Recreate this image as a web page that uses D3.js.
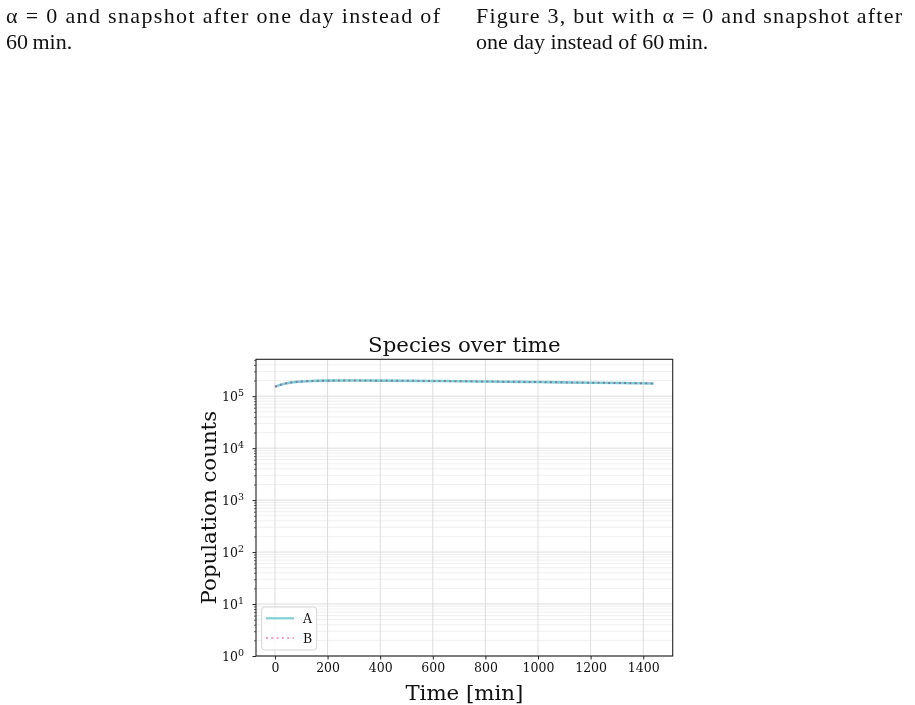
<!DOCTYPE html>
<html>
<head>
<meta charset="utf-8">
<script src="https://cdn.jsdelivr.net/npm/d3@7"></script>
<style>
  body { margin: 0; background: #fff; }
  svg text { font-family: "DejaVu Serif", serif; fill: #111; }
  .para text { font-family: "Liberation Serif", "DejaVu Serif", serif; font-size: 22px; }
  .grid-major line { stroke: #d9d9d9; stroke-width: 0.9; }
  .grid-minor line { stroke: #ececec; stroke-width: 0.8; }
</style>
</head>
<body>
<script>
// series
var times = [0, 25, 50, 100, 150, 200, 300, 400, 600, 800, 1000, 1200, 1440];
var seriesA = [152000, 168000, 180000, 192000, 197000, 199000, 200000, 199000, 196000, 192000, 187000, 182000, 176000];
var seriesB = [152000, 168000, 180000, 192000, 197000, 199000, 200000, 199000, 196000, 192000, 187000, 182000, 176000];
var xTicks = [0, 200, 400, 600, 800, 1000, 1200, 1400];
var yExps = [0, 1, 2, 3, 4, 5];
var legendNames = ["A", "B"];

// caption text above the figure
var captionLeft = ["\u03b1 = 0 and snapshot after one day instead of", "60\u2009min."];
var captionRight = ["Figure 3, but with \u03b1 = 0 and snapshot after", "one day instead of 60\u2009min."];

var width = 915, height = 705;
var plot = { left: 256, right: 672.7, top: 359.3, bottom: 656 };

var svg = d3.select("body").append("svg")
    .attr("width", width)
    .attr("height", height);

// caption columns, first line justified
var para = svg.append("g").attr("class", "para");
function caption(lines, x0, fullWidth) {
    lines.forEach(function (t, i) {
        var txt = para.append("text")
            .attr("x", x0)
            .attr("y", 23 + i * 26)
            .text(t);
        if (i === 0) txt.attr("textLength", fullWidth).attr("lengthAdjust", "spacing");
    });
}
caption(captionLeft, 6, 434);
caption(captionRight, 476, 426);

var x = d3.scaleLinear()
    .domain([-72, 1512])
    .range([plot.left, plot.right]);

var y = d3.scaleLog()
    .domain([1, Math.pow(10, 5.71)])
    .range([plot.bottom, plot.top]);

// minor ticks for the log axis
var minorVals = [];
for (var e = 0; e <= 5; e++) {
    for (var m = 2; m <= 9; m++) {
        var v = m * Math.pow(10, e);
        if (v <= y.domain()[1]) minorVals.push(v);
    }
}
var majorVals = yExps.map(function (k) { return Math.pow(10, k); });

// grid
svg.append("g").attr("class", "grid-minor")
    .selectAll("line").data(minorVals).enter().append("line")
    .attr("x1", plot.left).attr("x2", plot.right)
    .attr("y1", function (d) { return y(d); })
    .attr("y2", function (d) { return y(d); });

svg.append("g").attr("class", "grid-major")
    .selectAll("line").data(majorVals).enter().append("line")
    .attr("x1", plot.left).attr("x2", plot.right)
    .attr("y1", function (d) { return y(d); })
    .attr("y2", function (d) { return y(d); });

svg.append("g").attr("class", "grid-major")
    .selectAll("line").data(xTicks).enter().append("line")
    .attr("x1", function (d) { return x(d); })
    .attr("x2", function (d) { return x(d); })
    .attr("y1", plot.top).attr("y2", plot.bottom);

// lines
var line = function (vals) {
    return d3.line()
        .x(function (d, i) { return x(times[i]); })
        .y(function (d) { return y(d); })
        .curve(d3.curveMonotoneX)(vals);
};

svg.append("path")
    .attr("d", line(seriesA))
    .attr("fill", "none")
    .attr("stroke", "#7fcfd4")
    .attr("stroke-width", 2.6);

svg.append("path")
    .attr("d", line(seriesB))
    .attr("fill", "none")
    .attr("stroke", "#f29cc6")
    .attr("stroke-width", 2)
    .attr("stroke-dasharray", "2,3.3")
    .style("mix-blend-mode", "multiply");

// axes
var xAxis = d3.axisBottom(x)
    .tickValues(xTicks)
    .tickSize(3.5)
    .tickPadding(3.5)
    .tickFormat(String);

var gx = svg.append("g")
    .attr("transform", "translate(0," + plot.bottom + ")")
    .call(xAxis);
gx.select(".domain").remove();
gx.selectAll("text").style("font-size", "12.5px").style("font-family", "DejaVu Serif");
gx.selectAll("line").attr("stroke", "#222");

var yAxis = d3.axisLeft(y)
    .tickValues(majorVals)
    .tickSize(3.5)
    .tickPadding(3.5)
    .tickFormat("");

var gy = svg.append("g")
    .attr("transform", "translate(" + plot.left + ",0)")
    .call(yAxis);
gy.select(".domain").remove();
gy.selectAll("line").attr("stroke", "#222");

gy.selectAll(".tick").each(function (d) {
    var t = d3.select(this).append("text")
        .attr("x", -12)
        .attr("dy", "0.32em")
        .attr("text-anchor", "end")
        .style("font-size", "12.5px")
        .style("font-family", "DejaVu Serif")
        .style("fill", "#111");
    t.append("tspan").text("10");
    t.append("tspan").attr("dy", "-0.45em").style("font-size", "9.5px")
        .text(Math.round(Math.log10(d)));
});

var gyMinor = svg.append("g")
    .attr("transform", "translate(" + plot.left + ",0)")
    .call(d3.axisLeft(y).tickValues(minorVals).tickSize(2).tickFormat(""));
gyMinor.select(".domain").remove();
gyMinor.selectAll("line").attr("stroke", "#222").attr("stroke-width", 0.7);

// frame
svg.append("rect")
    .attr("x", plot.left)
    .attr("y", plot.top)
    .attr("width", plot.right - plot.left)
    .attr("height", plot.bottom - plot.top)
    .attr("fill", "none")
    .attr("stroke", "#222")
    .attr("stroke-width", 1.1);

// titles
svg.append("text")
    .attr("x", (plot.left + plot.right) / 2)
    .attr("y", 352)
    .attr("text-anchor", "middle")
    .style("font-size", "21.3px")
    .text("Species over time");

svg.append("text")
    .attr("x", (plot.left + plot.right) / 2)
    .attr("y", 700)
    .attr("text-anchor", "middle")
    .style("font-size", "21.3px")
    .text("Time [min]");

svg.append("text")
    .attr("transform", "translate(216," + (plot.top + plot.bottom) / 2 + ") rotate(-90)")
    .attr("text-anchor", "middle")
    .style("font-size", "21.3px")
    .text("Population counts");

// legend
var legend = svg.append("g").attr("class", "legend");
legend.append("rect")
    .attr("x", 261.7).attr("y", 607)
    .attr("width", 55).attr("height", 43)
    .attr("rx", 3)
    .attr("fill", "#fff").attr("fill-opacity", 0.85)
    .attr("stroke", "#d6d6d6");

legend.selectAll("g.item").data(legendNames).enter().append("g")
    .attr("class", "item")
    .each(function (d, i) {
        var g = d3.select(this);
        var yy = 618.3 + i * 19.7;
        g.append("line")
            .attr("x1", 266).attr("x2", 294)
            .attr("y1", yy).attr("y2", yy)
            .attr("stroke", i === 0 ? "#7fcfd4" : "#f29cc6")
            .attr("stroke-width", i === 0 ? 2.2 : 2)
            .attr("stroke-dasharray", i === 0 ? null : "2,3.3");
        g.append("text")
            .attr("x", 303).attr("y", yy + 4.5)
            .style("font-size", "12.5px")
            .text(d);
    });
</script>
</body>
</html>
